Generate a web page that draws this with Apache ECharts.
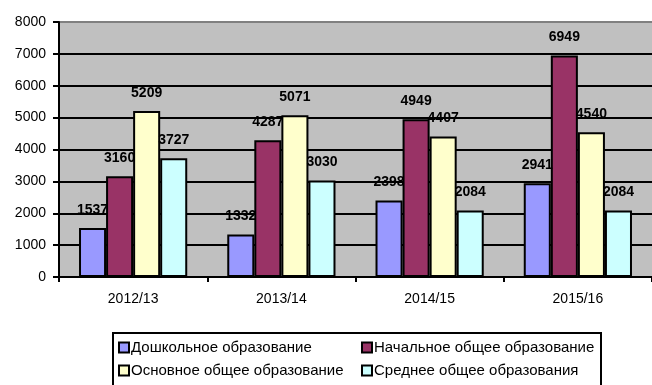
<!DOCTYPE html>
<html>
<head>
<meta charset="utf-8">
<script src="https://cdn.jsdelivr.net/npm/echarts@6/dist/echarts.min.js"></script>
<style>
  html, body { margin: 0; padding: 0; background: #fff; }
  #chart { width: 652px; height: 385px; }
</style>
</head>
<body>
<div id="chart"></div>
<script>
// School years on the category axis
const years = ['2012/13', '2013/14', '2014/15', '2015/16'];

// Series names and values per year
const seriesNames = [
  'Дошкольное образование',
  'Начальное общее образование',
  'Основное общее образование',
  'Среднее общее образования'
];
const preschool = [1537, 1332, 2398, 2941];
const primary = [3160, 4287, 4949, 6949];
const basic = [5209, 5071, 4407, 4540];
const secondary = [3727, 3030, 2084, 2084];

// Value axis ticks
const yMin = 0;
const yMax = 8000;
const yStep = 1000;

const colors = ['#9999FF', '#993366', '#FFFFCC', '#CCFFFF'];
const values = [preschool, primary, basic, secondary];
const FONT = 'Arial, "Liberation Sans", sans-serif';

const chart = echarts.init(document.getElementById('chart'), null, { renderer: 'canvas' });

// Grid lines: black, with the top boundary line in grey
const gridLineColors = [];
for (let v = yMin; v <= yMax; v += yStep) {
  gridLineColors.push(v === yMax ? '#808080' : '#000000');
}

const series = seriesNames.map((name, i) => ({
  name: name,
  type: 'bar',
  data: values[i],
  barGap: '0%',
  barCategoryGap: '27%',
  itemStyle: { color: colors[i], borderColor: '#000', borderWidth: 2 },
  label: {
    show: true,
    position: 'top',
    distance: 11,
    fontFamily: FONT,
    fontSize: 14,
    fontWeight: 'bold',
    color: '#000'
  }
}));

const legendCommon = {
  orient: 'vertical',
  top: 335,
  itemWidth: 10,
  itemHeight: 10,
  itemGap: 8,
  icon: 'rect',
  textStyle: { fontFamily: FONT, fontSize: 15, color: '#000', padding: [0, 0, 0, -3] },
  selectedMode: false
};

chart.setOption({
  animation: false,
  backgroundColor: '#ffffff',
  grid: {
    left: 59,
    top: 22,
    width: 596,
    height: 255,
    show: true,
    backgroundColor: '#C0C0C0',
    borderWidth: 0
  },
  legend: [
    Object.assign({ left: 113, data: [seriesNames[0], seriesNames[2]] }, legendCommon),
    Object.assign({ left: 356, data: [seriesNames[1], seriesNames[3]] }, legendCommon)
  ],
  graphic: [{
    type: 'rect',
    shape: { x: 113, y: 333, width: 488, height: 60 },
    style: { fill: 'none', stroke: '#000', lineWidth: 2 },
    silent: true
  }],
  xAxis: {
    type: 'category',
    data: years,
    axisLine: { lineStyle: { color: '#000', width: 2 } },
    axisTick: { show: true, length: 5, lineStyle: { color: '#000', width: 2 } },
    axisLabel: { fontFamily: FONT, fontSize: 14, color: '#000', margin: 15 },
    splitLine: { show: false }
  },
  yAxis: {
    type: 'value',
    min: yMin,
    max: yMax,
    interval: yStep,
    axisLine: { show: true, lineStyle: { color: '#000', width: 2 } },
    axisTick: { show: true, length: 6, lineStyle: { color: '#000', width: 2 } },
    axisLabel: {
      fontFamily: FONT, fontSize: 14, color: '#000', margin: 13,
      formatter: (v) => String(v)
    },
    splitLine: { show: true, lineStyle: { color: gridLineColors, width: 2 } }
  },
  series: series
});
</script>
</body>
</html>
